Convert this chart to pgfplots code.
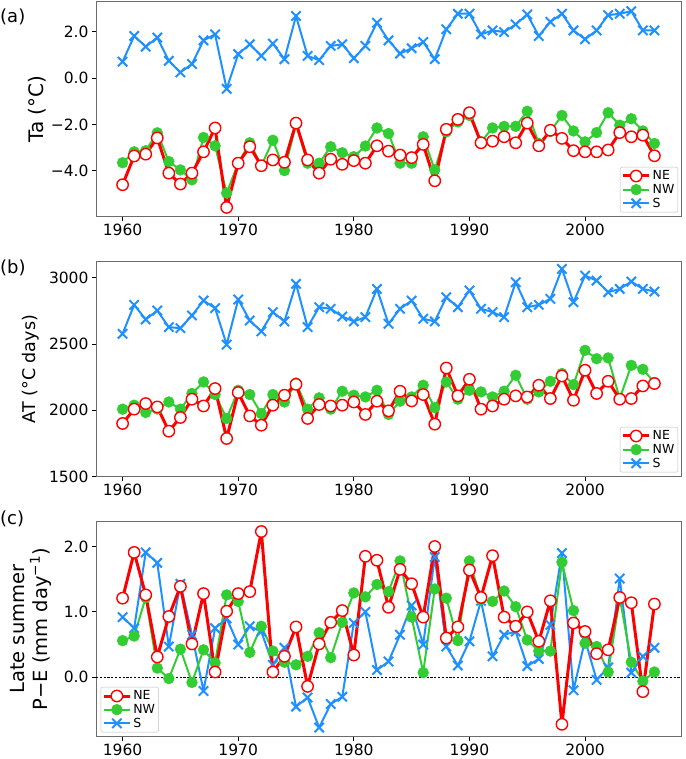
\documentclass[border=0pt]{standalone}
\usepackage{fontspec}
\setmainfont{DejaVu Sans}
\usepackage{pgfplots}
\pgfplotsset{compat=1.18}
\usepackage{pgfplotstable}
\definecolor{neRed}{RGB}{255,0,0}
\definecolor{nwGreen}{RGB}{50,205,50}
\definecolor{sBlue}{RGB}{30,144,255}

\pgfplotstableread{
year NE NW S
1960 -4.60 -3.65 0.71
1961 -3.36 -3.18 1.82
1962 -3.28 -3.13 1.36
1963 -2.58 -2.36 1.75
1964 -4.10 -3.60 0.75
1965 -4.57 -3.96 0.25
1966 -4.10 -4.39 0.61
1967 -3.18 -2.56 1.63
1968 -2.15 -2.92 1.89
1969 -5.58 -4.96 -0.46
1970 -3.67 -3.67 1.04
1971 -2.96 -2.79 1.46
1972 -3.78 -3.78 0.96
1973 -3.53 -2.68 1.49
1974 -3.63 -3.99 0.82
1975 -1.94 -1.98 2.68
1976 -3.53 -3.67 0.96
1977 -4.10 -3.67 0.78
1978 -3.50 -2.96 1.39
1979 -3.72 -3.22 1.46
1980 -3.56 -3.39 0.86
1981 -3.67 -2.93 1.39
1982 -2.92 -2.15 2.39
1983 -3.15 -2.39 1.63
1984 -3.32 -3.67 1.06
1985 -3.43 -3.67 1.29
1986 -2.86 -2.53 1.56
1987 -4.43 -3.96 0.82
1988 -2.21 -2.32 2.11
1989 -1.78 -1.89 2.78
1990 -1.49 -1.61 2.78
1991 -2.79 -2.75 1.89
1992 -2.72 -2.15 2.06
1993 -2.53 -2.08 1.99
1994 -2.79 -2.08 2.32
1995 -1.94 -1.43 2.75
1996 -2.92 -2.82 1.82
1997 -2.25 -2.30 2.43
1998 -2.60 -1.61 2.78
1999 -3.13 -2.28 2.06
2000 -3.18 -2.75 1.68
2001 -3.18 -2.35 2.06
2002 -3.10 -1.49 2.72
2003 -2.35 -2.03 2.78
2004 -2.53 -1.75 2.89
2005 -2.46 -2.28 2.06
2006 -3.35 -2.82 2.06
}\tabA

\pgfplotstableread{
year NE NW S
1960 1901 2009 2577
1961 2009 2039 2795
1962 2051 1984 2685
1963 2026 2010 2752
1964 1843 2063 2627
1965 1946 2009 2619
1966 2084 2127 2715
1967 2033 2214 2827
1968 2164 2119 2770
1969 1788 1939 2495
1970 2134 2151 2835
1971 1958 2119 2677
1972 1888 1976 2595
1973 2039 2119 2740
1974 2114 2063 2670
1975 2196 2206 2953
1976 1939 2009 2627
1977 2044 2094 2777
1978 2033 2009 2765
1979 2039 2144 2707
1980 2063 2114 2670
1981 1969 2101 2702
1982 2069 2151 2915
1983 1996 1969 2652
1984 2144 2069 2765
1985 2071 2101 2827
1986 2119 2189 2690
1987 1896 2020 2670
1988 2319 2214 2852
1989 2109 2084 2777
1990 2234 2151 2903
1991 2009 2139 2765
1992 2033 2101 2740
1993 2084 2144 2702
1994 2109 2264 2965
1995 2101 2084 2777
1996 2189 2139 2795
1997 2089 2219 2840
1998 2259 2277 3066
1999 2076 2194 2815
2000 2302 2452 3015
2001 2127 2389 2978
2002 2219 2395 2890
2003 2084 2089 2915
2004 2089 2339 2970
2005 2184 2309 2915
2006 2202 2210 2895
}\tabB

\pgfplotstableread{
year NE NW S
1960 1.21 0.56 0.92
1961 1.91 0.63 0.75
1962 1.26 1.22 1.91
1963 0.31 0.14 1.75
1964 0.93 -0.02 0.47
1965 1.39 0.43 1.43
1966 0.51 -0.08 0.65
1967 1.28 0.42 -0.21
1968 0.08 0.22 0.75
1969 1.01 1.26 0.90
1970 1.28 1.16 0.50
1971 1.31 0.38 0.78
1972 2.23 0.78 0.70
1973 0.08 0.40 0.19
1974 0.32 0.23 0.45
1975 0.77 0.19 -0.45
1976 -0.14 0.32 -0.31
1977 0.51 0.68 -0.77
1978 0.84 0.30 -0.41
1979 1.02 0.84 -0.30
1980 0.34 1.29 0.83
1981 1.85 1.23 1.00
1982 1.79 1.42 0.11
1983 1.07 1.31 0.24
1984 1.65 1.78 0.65
1985 1.43 0.92 1.10
1986 0.92 0.07 0.50
1987 2.00 1.35 1.84
1988 0.60 1.21 0.47
1989 0.77 0.56 0.18
1990 1.64 1.78 0.55
1991 1.22 1.19 1.17
1992 1.86 1.16 0.32
1993 0.92 1.32 0.65
1994 0.78 1.08 0.70
1995 1.00 0.57 0.17
1996 0.55 0.40 0.28
1997 1.17 0.40 0.80
1998 -0.72 1.76 1.90
1999 0.83 1.02 -0.20
2000 0.70 0.52 0.57
2001 0.36 0.47 -0.04
2002 0.42 0.08 0.15
2003 1.22 1.22 1.51
2004 1.14 0.23 0.07
2005 -0.22 -0.06 0.32
2006 1.12 0.08 0.45
}\tabC

\pgfplotsset{
  panel/.style={
    scale only axis, width=585pt, height=215pt, anchor=south west,
    xmin=1957.7, xmax=2008.3,
    xtick={1960,1970,1980,1990,2000},
    xticklabels={1960,1970,1980,1990,2000},
    tick align=outside, tick pos=left,
    major tick length=4pt,
    axis line style={draw=gray!85!black, line width=0.8pt},
    tick style={black, line width=0.8pt},
    ticklabel style={font=\fontsize{15.5}{18}\selectfont},
    every axis y label/.style={at={(axis description cs:-0.101,0.5)}, rotate=90, anchor=center},
    legend cell align=left,
    legend style={draw=gray!50, rounded corners=2pt, font=\fontsize{12.5}{15}\selectfont, inner sep=1.5pt, row sep=-1pt},
    legend image code/.code={\draw[mark repeat=2,mark phase=2] plot coordinates {(0pt,0pt) (13pt,0pt) (26pt,0pt)};},
    reverse legend,
  },
  NEs/.style={neRed, line width=3pt, line join=round, mark=*, mark size=5.7pt, mark options={fill=white, draw=neRed, line width=1.4pt}},
  NWs/.style={nwGreen, line width=2pt, line join=round, mark=*, mark size=5.4pt, mark options={fill=nwGreen, draw=nwGreen, line width=0.5pt}},
  Ss/.style={sBlue, line width=2pt, line join=round, mark=x, mark size=6.6pt, mark options={line width=2pt}},
}

\begin{document}
\begin{tikzpicture}
\useasboundingbox (0,0) rectangle (685pt,759pt);

% panel (a)
\begin{axis}[panel, at={(96pt,542.3pt)},
  ymin=-5.98, ymax=3.30,
  ytick={-4,-2,0,2}, yticklabels={−4.0,−2.0,0.0,2.0},
  ylabel={Ta (°C)}, ylabel style={font=\fontsize{20}{24}\selectfont},
  legend style={at={(0.995,0.02)}, anchor=south east}]
\addplot[Ss] table[x=year,y=S]{\tabA}; \addlegendentry{S}
\addplot[NWs] table[x=year,y=NW]{\tabA}; \addlegendentry{NW}
\addplot[NEs] table[x=year,y=NE]{\tabA}; \addlegendentry{NE}
\end{axis}

% panel (b)
\begin{axis}[panel, at={(96pt,282.3pt)},
  ymin=1500, ymax=3120,
  ytick={1500,2000,2500,3000}, yticklabels={1500,2000,2500,3000},
  ylabel={AT (°C days)}, ylabel style={font=\fontsize{17.5}{21}\selectfont, at={(axis description cs:-0.111,0.5)}},
  legend style={at={(0.995,0.02)}, anchor=south east}]
\addplot[Ss] table[x=year,y=S]{\tabB}; \addlegendentry{S}
\addplot[NWs] table[x=year,y=NW]{\tabB}; \addlegendentry{NW}
\addplot[NEs] table[x=year,y=NE]{\tabB}; \addlegendentry{NE}
\end{axis}

% panel (c)
\begin{axis}[panel, at={(96pt,22.3pt)},
  ymin=-0.91, ymax=2.38,
  ytick={0,1,2}, yticklabels={0.0,1.0,2.0},
  ylabel={Late summer\\P−E (mm day\textsuperscript{−1})},
  ylabel style={font=\fontsize{19.5}{22.5}\selectfont, align=center, at={(axis description cs:-0.111,0.5)}},
  legend style={at={(0.008,0.02)}, anchor=south west}]
\addplot[black, line width=0.8pt, dash pattern=on 2.2pt off 1.6pt, forget plot] coordinates {(1957.7,0) (2008.3,0)};
\addplot[Ss] table[x=year,y=S]{\tabC}; \addlegendentry{S}
\addplot[NWs] table[x=year,y=NW]{\tabC}; \addlegendentry{NW}
\addplot[NEs] table[x=year,y=NE]{\tabC}; \addlegendentry{NE}
\end{axis}

\node[anchor=west, font=\fontsize{18}{22}\selectfont, inner sep=0pt] at (0pt,742pt) {(a)};
\node[anchor=west, font=\fontsize{18}{22}\selectfont, inner sep=0pt] at (0pt,491pt) {(b)};
\node[anchor=west, font=\fontsize{18}{22}\selectfont, inner sep=0pt] at (0pt,240pt) {(c)};
\end{tikzpicture}
\end{document}
